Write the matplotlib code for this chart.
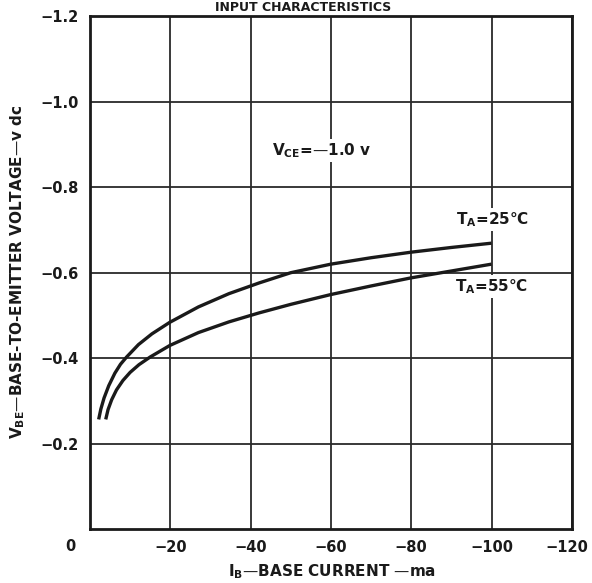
import matplotlib
matplotlib.use("Agg")
import matplotlib.pyplot as plt
from matplotlib.transforms import ScaledTranslation

plt.rcParams['font.family'] = ['DejaVu Sans']
plt.rcParams['font.weight'] = 'bold'
plt.rcParams['mathtext.fontset'] = 'dejavusans'

# base current (ma) and base-to-emitter voltage (v dc)
ib_25 = [-2.16, -2.7, -3.5, -4.68, -6.19, -7.6, -9.13, -12.08, -15.42, -19.87, -27.0, -34.6,
         -42.1, -50.0, -60.0, -70.0, -80.0, -90.0, -100.0]
vbe_25 = [-0.257, -0.281, -0.307, -0.336, -0.365, -0.386, -0.403, -0.432, -0.457, -0.484, -0.520,
          -0.551, -0.576, -0.600, -0.620, -0.635, -0.648, -0.659, -0.669]
ib_55 = [-3.92, -4.5, -5.4, -6.6, -8.2, -10.0, -12.2, -15.0, -19.9, -27.0, -34.6,
         -42.1, -50.0, -60.0, -70.0, -80.0, -90.0, -100.0]
vbe_55 = [-0.257, -0.280, -0.303, -0.326, -0.348, -0.367, -0.385, -0.403, -0.430, -0.460, -0.485,
          -0.506, -0.526, -0.549, -0.569, -0.588, -0.604, -0.620]

x_ticks = [-20, -40, -60, -80, -100, -120]
y_ticks = [-0.2, -0.4, -0.6, -0.8, -1.0, -1.2]

M = '\u2212'
INK = '#1a1a1a'

fig = plt.figure(figsize=(5.92, 5.83), dpi=100)
ax = fig.add_axes([0.152, 0.092, 0.814, 0.8805])

for ib, vbe in [(ib_25, vbe_25), (ib_55, vbe_55)]:
    ax.plot(ib, vbe, color=INK, lw=2.4, solid_capstyle='butt', solid_joinstyle='round', zorder=3)

ax.set_xlim(0, -120)
ax.set_ylim(0, -1.2)
ax.set_xticks([0] + x_ticks)
ax.set_xticklabels([''] + [M + str(-t) for t in x_ticks])
ax.set_yticks(y_ticks)
ax.set_yticklabels([M + '%.1f' % -t for t in y_ticks])
ax.tick_params(length=0, labelsize=10.5, pad=8, colors=INK)
ax.grid(True, color='#2a2a2a', lw=1.3)
for sp in ax.spines.values():
    sp.set_linewidth(2.0)
    sp.set_color(INK)

# the last x label sits a little left of its gridline, inside the page
last = ax.get_xticklabels()[-1]
last.set_transform(last.get_transform() + ScaledTranslation(-5 / 100, 0, fig.dpi_scale_trans))

# shared origin label, left of the corner
ax.annotate('0', xy=(0, 0), xytext=(-19.5, -17.5), textcoords='offset pixels',
            ha='center', va='center', fontsize=10.5, color=INK)

box = dict(facecolor='white', edgecolor='none', pad=1.5)
ax.text(-57.8, -0.885, r'V$_{\mathbf{CE}}$=' + '\u2014' + '1.0 v', ha='center', va='center',
        fontsize=11, color=INK, bbox=box, zorder=4)
ax.text(-100.2, -0.724, r'T$_{\mathbf{A}}$=25°C', ha='center', va='center',
        fontsize=11, color=INK, bbox=box, zorder=4)
ax.text(-100.0, -0.568, r'T$_{\mathbf{A}}$=55°C', ha='center', va='center',
        fontsize=11, color=INK, bbox=box, zorder=4)

fig.text(18 / 592, 1 - 272 / 583, r'V$_{\mathbf{BE}}$—BASE-TO-EMITTER VOLTAGE—v dc',
         rotation=90, ha='center', va='center', fontsize=11, fontweight='bold', color=INK)
fig.text(332 / 592, 1 - 572 / 583, r'I$_{\mathbf{B}}$—BASE CURRENT —ma',
         ha='center', va='center', fontsize=11, fontweight='bold', color=INK)
fig.text(303 / 592, 1.0 - 1 / 583, 'INPUT CHARACTERISTICS', ha='center', va='top',
         fontsize=9, color=INK)

fig.savefig('out.png', dpi=100)
